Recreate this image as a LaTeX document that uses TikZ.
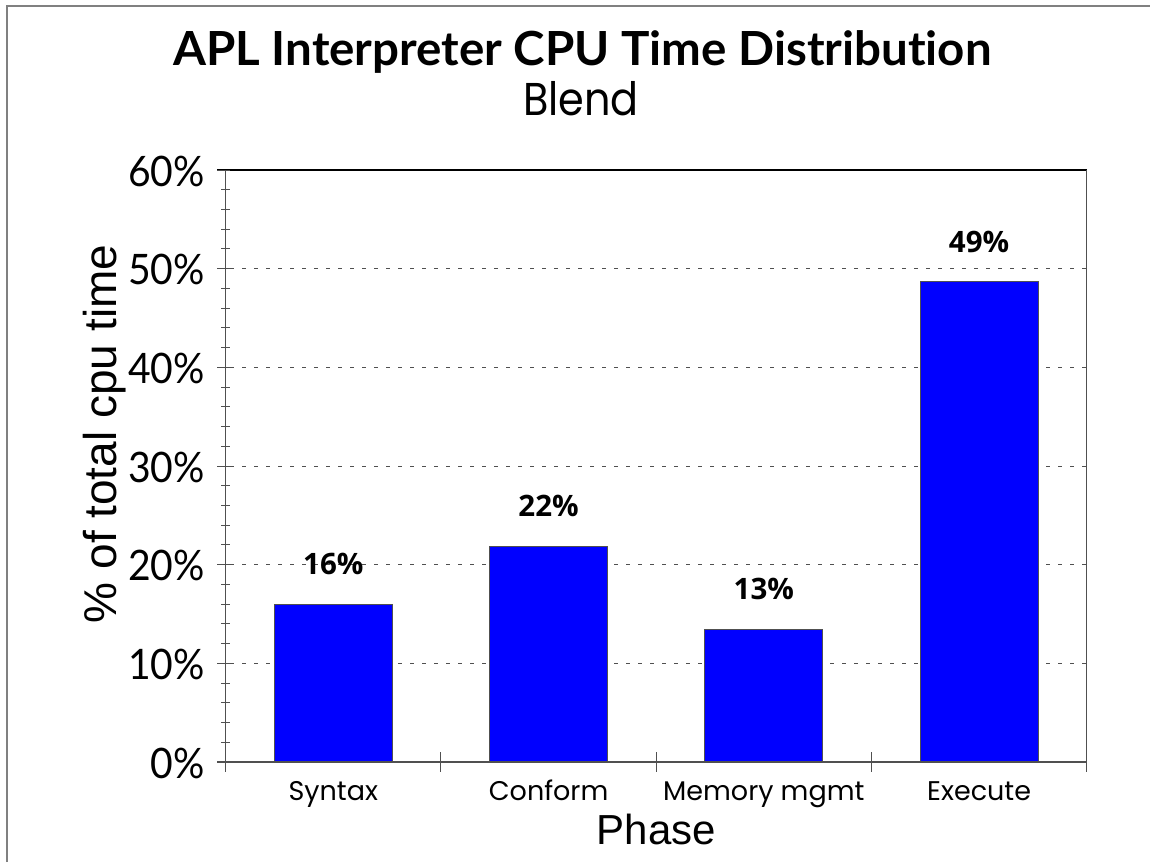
\documentclass[tikz,border=0pt]{standalone}
\usepackage{fontspec}
\newfontfamily\titlefont[Ligatures=NoCommon]{Lato}
\newfontfamily\geofont{Poppins}
\newfontfamily\tickfont{Lato}
\newfontfamily\valfont{Open Sans}
\newfontfamily\arialfont{Liberation Sans}
\definecolor{barblue}{RGB}{0,0,255}
\definecolor{axisgray}{RGB}{80,80,80}
\definecolor{framegray}{RGB}{128,128,128}
\begin{document}
\begin{tikzpicture}[x=1pt,y=-1pt,
  bar/.style={draw=axisgray,line width=1pt,fill=barblue},
  grid/.style={draw=axisgray,line width=1pt,dash pattern=on 4pt off 8pt},
  ticklab/.style={font=\tickfont\fontsize{42}{42}\selectfont,anchor=base east,inner sep=0pt},
  catlab/.style={font=\geofont\fontsize{27}{27}\selectfont,anchor=base,inner sep=0pt},
  vallab/.style={font=\valfont\bfseries\fontsize{29.5}{29.5}\selectfont,anchor=base,inner sep=0pt},
  axisline/.style={draw=axisgray,line width=1.2pt}]
\useasboundingbox (0,0) rectangle (1150,862);
% outer frame
\draw[framegray,line width=2pt] (7,862) -- (7,5.7) -- (1150,5.7);
% title
\node[font=\titlefont\bfseries\fontsize{47}{47}\selectfont,anchor=base,inner sep=0pt] (title) at (582.5,65) {\scalebox{1.01}[1]{APL Interpreter CPU Time Distribution}};
\node[font=\geofont\fontsize{46}{46}\selectfont,anchor=base,inner sep=0pt] (sub) at (581,115) {\scalebox{0.9}[1]{Blend}};
% grid lines
\foreach \v in {1,...,5}{
  \draw[grid] (230,{762-98.667*\v}) -- (1086.7,{762-98.667*\v});
}
% bars
\foreach \i/\t/\n in {0/604.7/b1,1/546/b2,2/629/b3,3/281.7/b4}{
  \path[bar] ({225.7+215.25*(\i+0.5)-59},762) rectangle ({225.7+215.25*(\i+0.5)+59},\t);
}
% plot frame
\draw[black,line width=1.2pt] (217,170) -- (1086.7,170);
\draw[axisgray,line width=1.2pt] (1086.7,170) -- (1086.7,772);
\draw[axisline] (225.7,170) -- (225.7,772);
\draw[axisline] (217,762) -- (1086.7,762);
% y ticks
\foreach \k in {0,...,30}{
  \draw[axisgray,line width=1pt] (221,{762-19.733*\k}) -- (230,{762-19.733*\k});
}
\foreach \v in {0,...,6}{
  \draw[axisgray,line width=1pt] (217,{762-98.667*\v}) -- (230,{762-98.667*\v});
}
% x ticks
\foreach \j in {1,2,3,4}{
  \draw[axisgray,line width=1pt] ({225.7+215.25*\j},752) -- ({225.7+215.25*\j},772);
}
% y tick labels
\node[ticklab] (yl0) at (205,778) {\scalebox{0.93}[1]{0\%}};
\foreach \v in {1,...,6}{
  \node[ticklab] (yl\v) at (205,{762-98.667*\v+16}) {\scalebox{0.93}[1]{\v0\%}};
}
% value labels
\node[vallab] (v1) at (333.3,574.7) {16\%};
\node[vallab] (v2) at (548.6,516) {22\%};
\node[vallab] (v3) at (763.8,599) {13\%};
\node[vallab] (v4) at (979.1,252) {49\%};
% category labels
\node[catlab] (c1) at (333.3,800) {Syntax};
\node[catlab] (c2) at (548.6,800) {Conform};
\node[catlab] (c3) at (763.8,800) {Memory mgmt};
\node[catlab] (c4) at (979.1,800) {Execute};
% axis titles
\node[font=\arialfont\fontsize{42}{42}\selectfont,anchor=base,inner sep=0pt] (xt) at (656.5,844) {Phase};
\node[font=\arialfont\fontsize{46}{46}\selectfont,anchor=base,inner sep=0pt,rotate=90] (yt) at (116,434) {\% of total cpu time};
\end{tikzpicture}
\end{document}
